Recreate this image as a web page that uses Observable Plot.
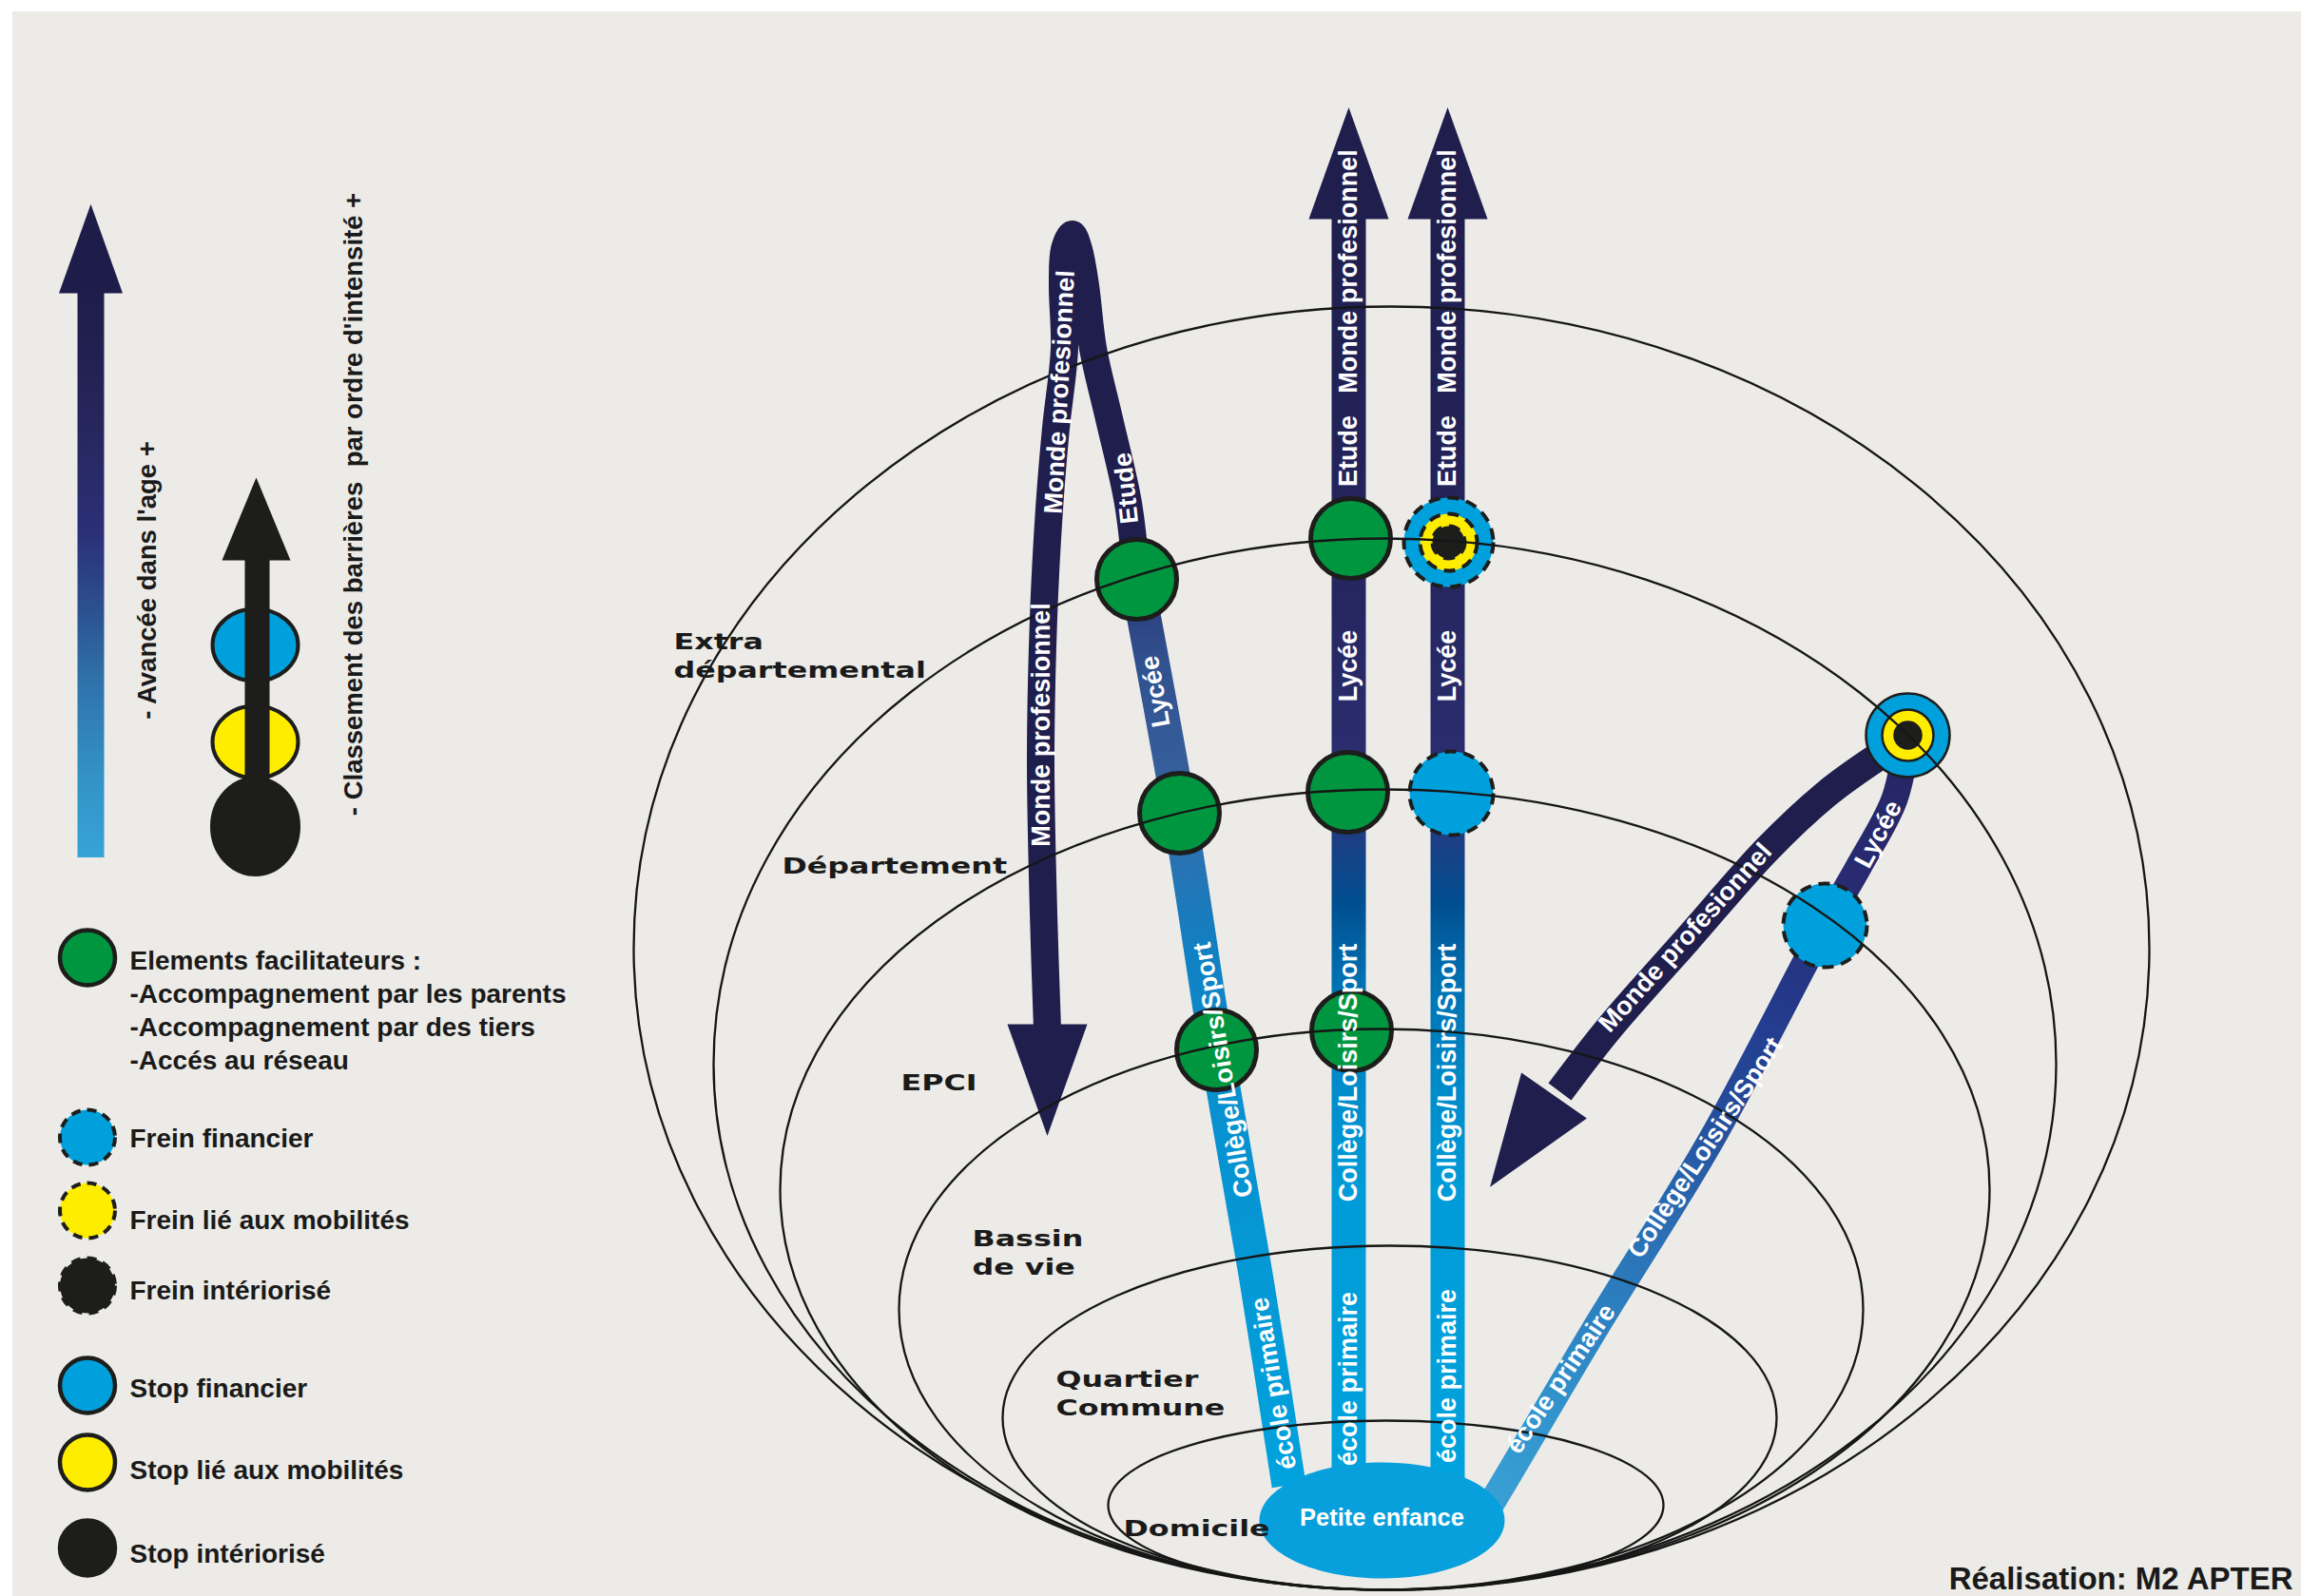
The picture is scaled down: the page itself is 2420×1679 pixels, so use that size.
<!DOCTYPE html>
<html lang="fr">
<head>
<meta charset="utf-8">
<title>Parcours et barrières</title>
<script src="https://cdn.jsdelivr.net/npm/d3@7"></script>
<script src="https://cdn.jsdelivr.net/npm/@observablehq/plot@0.6"></script>
<style>
  html, body { margin: 0; padding: 0; background: #ffffff; }
  #stage { position: relative; width: 2420px; height: 1679px; overflow: hidden; }
  #paper { position: absolute; left: 13px; top: 12px; right: 0; bottom: 0; background: #ECEBE7; }
  #chart { position: absolute; left: 0; top: 0; }
  #chart svg { display: block; }
</style>
</head>
<body>
<div id="stage"><div id="paper"></div><div id="chart"></div></div>
<script>
const W = 2420, H = 1679;

// ---------- DATA (diagram coordinates) ----------
// Territorial levels: nested ellipses that all touch the home point at the bottom
const BASE_Y = 1672;
const zones = [
  {name: "Extra départemental", cx: 1463, rx: 797, ry: 675},
  {name: "Département",         cx: 1456, rx: 706, ry: 553},
  {name: "EPCI",                cx: 1456, rx: 636, ry: 421},
  {name: "Bassin de vie",       cx: 1452, rx: 507, ry: 295},
  {name: "Quartier Commune",    cx: 1461, rx: 407, ry: 181},
  {name: "Domicile",            cx: 1457, rx: 292, ry: 89}
];
const zoneLabels = [
  {label: "Extra\ndépartemental", x: 708,  y: 712},
  {label: "Département",          x: 822,  y: 918},
  {label: "EPCI",                 x: 947,  y: 1146},
  {label: "Bassin\nde vie",       x: 1022, y: 1340},
  {label: "Quartier\nCommune",    x: 1110, y: 1488},
  {label: "Domicile",             x: 1181, y: 1615}
];
const petiteEnfance = [{label: "Petite enfance", x: 1453, y: 1599, rx: 129, ry: 61}];

// Trajectories (centre lines of the bands)
const trajetOuestMontee = [
  {x: 1355, y: 1562}, {x: 1320, y: 1340}, {x: 1279, y: 1104}, {x: 1240, y: 855}, {x: 1195, y: 609}
];
const trajetOuestBoucle = [
  {x: 1195, y: 609}, {x: 1186, y: 529}, {x: 1166, y: 440}, {x: 1149, y: 366}, {x: 1141, y: 300},
  {x: 1134, y: 262}, {x: 1127, y: 246}, {x: 1119, y: 262}, {x: 1117, y: 300}, {x: 1119, y: 366},
  {x: 1110, y: 450}, {x: 1103, y: 535}, {x: 1097, y: 650}, {x: 1094, y: 800}, {x: 1097, y: 960},
  {x: 1101, y: 1082}
];
const trajetCentre = [{x: 1418, y: 1556}, {x: 1418, y: 226}];
const trajetDroit  = [{x: 1522, y: 1556}, {x: 1522, y: 226}];
const trajetEstMontee = [
  {x: 1552, y: 1606}, {x: 1565, y: 1586}, {x: 1676, y: 1399}, {x: 1799, y: 1199},
  {x: 1919, y: 973}, {x: 1955, y: 910}, {x: 1992, y: 840}, {x: 2006, y: 773}
];
const trajetEstDescente = [
  {x: 2000, y: 780}, {x: 1968, y: 800}, {x: 1920, y: 835}, {x: 1858, y: 893},
  {x: 1774, y: 988}, {x: 1692, y: 1081}, {x: 1640, y: 1148}
];
const pointes = [
  {x: 1418, y: 230, angle: 0},
  {x: 1522, y: 230, angle: 0},
  {x: 1101, y: 1077, angle: 180},
  {x: 1634, y: 1152, angle: -145}
];

// Stage labels along the bands
const etapes = [
  {label: "école primaire",        x: 1339, y: 1455, angle: -99.5},
  {label: "Collège/Loisirs/Sport", x: 1286, y: 1125, angle: -99.5},
  {label: "Lycée",                 x: 1215, y: 727,  angle: -100},
  {label: "Etude",                 x: 1184, y: 513,  angle: -96},
  {label: "Monde profesionnel",    x: 1114, y: 412,  angle: -87},
  {label: "Monde profesionnel",    x: 1095, y: 762,  angle: -90},
  {label: "école primaire",        x: 1418, y: 1450, angle: -90},
  {label: "Collège/Loisirs/Sport", x: 1418, y: 1128, angle: -90},
  {label: "Lycée",                 x: 1418, y: 700,  angle: -90},
  {label: "Etude",                 x: 1418, y: 474,  angle: -90},
  {label: "Monde profesionnel",    x: 1418, y: 285,  angle: -90},
  {label: "école primaire",        x: 1522, y: 1447, angle: -90},
  {label: "Collège/Loisirs/Sport", x: 1522, y: 1128, angle: -90},
  {label: "Lycée",                 x: 1522, y: 700,  angle: -90},
  {label: "Etude",                 x: 1522, y: 474,  angle: -90},
  {label: "Monde profesionnel",    x: 1522, y: 285,  angle: -90},
  {label: "école primaire",        x: 1641, y: 1450, angle: -56},
  {label: "Collège/Loisirs/Sport", x: 1793, y: 1207, angle: -56.5},
  {label: "Lycée",                 x: 1975, y: 877,  angle: -62},
  {label: "Monde profesionnel",    x: 1772, y: 986,  angle: -48}
];

// Barriers / facilitators met along the trajectories
const facilitateurs = [
  {x: 1279, y: 1104}, {x: 1240, y: 855}, {x: 1195, y: 609},
  {x: 1421, y: 1084}, {x: 1417, y: 833}, {x: 1420, y: 566}
];
const freins = [
  {x: 1526, y: 834, barrieres: ["financier"]},
  {x: 1523, y: 570, barrieres: ["financier", "mobilite", "interiorise"]},
  {x: 1919, y: 973, barrieres: ["financier"]}
];
const stops = [
  {x: 2006, y: 773, barrieres: ["financier", "mobilite", "interiorise"]}
];

// Legend
const kinds = ["facilitateur", "financier", "mobilite", "interiorise"];
const kindColors = ["#00963F", "#00A0DC", "#FFED00", "#1D1D1B"];
const legendeItems = [
  {kind: "facilitateur", trait: "plein", label: "Elements facilitateurs :\n-Accompagnement par les parents\n-Accompagnement par des tiers\n-Accés au réseau"},
  {kind: "financier",    trait: "tirets", label: "Frein financier"},
  {kind: "mobilite",     trait: "tirets", label: "Frein lié aux mobilités"},
  {kind: "interiorise",  trait: "tirets", label: "Frein intériorisé"},
  {kind: "financier",    trait: "plein",  label: "Stop financier"},
  {kind: "mobilite",     trait: "plein",  label: "Stop lié aux mobilités"},
  {kind: "interiorise",  trait: "plein",  label: "Stop intériorisé"}
];
const echelleIntensite = ["financier", "mobilite", "interiorise"];
const axesLegende = [
  {label: "- Avancée dans l'age +", x: 155, y: 610},
  {label: "- Classement des barrières\u00a0 par ordre d'intensité +", x: 372, y: 530}
];
const credit = [{label: "Réalisation: M2 APTER", x: 2411, y: 1671}];

// ---------- LAYOUT / STYLE ----------
const legendeSymbolY = [1007, 1196, 1273, 1352, 1457, 1538, 1628];
const legendeTextY   = [1124, 1206, 1292, 1366, 1469, 1555, 1643];
const echelleLayout  = [{y: 678, rx: 45, ry: 38}, {y: 780, rx: 45, ry: 38}, {y: 869, rx: 46, ry: 51}];
const NAVY = "#1F1E4D";

// Custom symbols
const ellipse = (aspect) => ({
  draw(ctx, size) {
    const rx = Math.sqrt(size / Math.PI), ry = rx * aspect, k = 0.5522847498;
    ctx.moveTo(rx, 0);
    ctx.bezierCurveTo(rx, k * ry, k * rx, ry, 0, ry);
    ctx.bezierCurveTo(-k * rx, ry, -rx, k * ry, -rx, 0);
    ctx.bezierCurveTo(-rx, -k * ry, -k * rx, -ry, 0, -ry);
    ctx.bezierCurveTo(k * rx, -ry, rx, -k * ry, rx, 0);
    ctx.closePath();
  }
});
const arrowHead = (ratio, angle) => ({
  draw(ctx, size) {
    const r = Math.sqrt(size / Math.PI), a = angle * Math.PI / 180;
    const rot = ([x, y]) => [x * Math.cos(a) - y * Math.sin(a), x * Math.sin(a) + y * Math.cos(a)];
    const p = [[0, -ratio * r], [r, 0], [-r, 0]].map(rot);
    ctx.moveTo(p[0][0], p[0][1]); ctx.lineTo(p[1][0], p[1][1]); ctx.lineTo(p[2][0], p[2][1]); ctx.closePath();
  }
});

const ringRadius = [47, 30, 17];
const toRings = (list, single) => list.flatMap(n => n.barrieres.map((k, i) => ({
  x: n.x, y: n.y, kind: k, r: n.barrieres.length === 1 ? single : ringRadius[i]
})));
const freinRings = toRings(freins, 44);
const stopRings = toRings(stops, 44).map(d => ({...d, r: d.r - 3}));

const legendeRows = legendeItems.map((d, i) => ({...d, x: 91.5, y: legendeSymbolY[i], tx: 136, ty: legendeTextY[i]}));
const echelleRows = echelleIntensite.map((k, i) => ({kind: k, x: 268, ...echelleLayout[i]}));

const lineOpts = {x: "x", y: "y", curve: "catmull-rom", strokeLinecap: "butt", strokeLinejoin: "round"};
const SANS = "Liberation Sans, Arial, Helvetica, sans-serif";

const svg = Plot.plot({
  width: W, height: H, margin: 0,
  x: {type: "identity", axis: null},
  y: {type: "identity", axis: null},
  r: {type: "identity"},
  color: {type: "ordinal", domain: kinds, range: kindColors},
  style: {background: "transparent", maxWidth: "none"},
  marks: [
    // bands
    Plot.line(trajetOuestMontee, {...lineOpts, stroke: "url(#gOuest)", strokeWidth: 36}),
    Plot.line(trajetOuestBoucle, {...lineOpts, stroke: NAVY, strokeWidth: 29}),
    Plot.line(trajetCentre, {...lineOpts, stroke: "url(#gVert)", strokeWidth: 36}),
    Plot.line(trajetDroit, {...lineOpts, stroke: "url(#gVert)", strokeWidth: 36}),
    Plot.line(trajetEstDescente, {...lineOpts, stroke: NAVY, strokeWidth: 30}),
    Plot.line(trajetEstMontee, {...lineOpts, stroke: "url(#gEst)", strokeWidth: 28}),
    // arrow heads
    ...pointes.map(p => Plot.dot([p], {x: "x", y: "y", r: 42, symbol: arrowHead(2.8, p.angle), fill: NAVY})),
    // early childhood hub
    Plot.dot(petiteEnfance, {x: "x", y: "y", r: "rx", symbol: ellipse(petiteEnfance[0].ry / petiteEnfance[0].rx), fill: "#07A0DC"}),
    // nodes
    Plot.dot(facilitateurs, {x: "x", y: "y", r: 42, fill: () => "facilitateur", stroke: "#1D1D1B", strokeWidth: 5}),
    Plot.dot(freinRings, {x: "x", y: "y", r: "r", fill: "kind", stroke: "#1D1D1B", strokeWidth: 4, strokeDasharray: "12,8"}),
    Plot.dot(stopRings, {x: "x", y: "y", r: "r", fill: "kind", stroke: "#1D1D1B", strokeWidth: 2.5}),
    // territorial level outlines
    ...zones.map(z => Plot.dot([z], {x: "cx", y: d => BASE_Y - d.ry, r: "rx", symbol: ellipse(z.ry / z.rx), fill: "none", stroke: "#161616", strokeWidth: 2.3})),
    // band labels
    Plot.text(etapes, {x: "x", y: "y", text: "label", rotate: "angle", fill: "#ffffff", fontSize: 27, fontWeight: "bold", fontFamily: SANS, textAnchor: "middle", lineAnchor: "middle"}),
    // zone labels
    Plot.text(zoneLabels, {x: "x", y: "y", text: "label", fill: "#1a1a1a", fontSize: 23, fontWeight: "bold", fontFamily: "DejaVu Sans, Verdana, sans-serif", textAnchor: "start", lineAnchor: "bottom", lineHeight: 1.3}),
    Plot.text(petiteEnfance, {x: "x", y: d => d.y + 5, text: "label", fill: "#ffffff", fontSize: 25.5, fontWeight: "bold", fontFamily: SANS, textAnchor: "middle", lineAnchor: "bottom"}),

    // ---- legend: age arrow
    Plot.ruleX([{x: 95, y1: 902, y2: 300}], {x: "x", y1: "y1", y2: "y2", stroke: "url(#gLeg)", strokeWidth: 28}),
    Plot.dot([{x: 95, y: 308}], {x: "x", y: "y", r: 33.5, symbol: arrowHead(2.8, 0), fill: "#1E1D4A"}),
    // ---- legend: intensity arrow
    ...echelleRows.slice(0, 2).map(d => Plot.dot([d], {x: "x", y: "y", r: "rx", symbol: ellipse(d.ry / d.rx), fill: "kind", stroke: "#1D1D1B", strokeWidth: 4})),
    Plot.ruleX([{x: 270, y1: 880, y2: 585}], {x: "x", y1: "y1", y2: "y2", stroke: "#1D1D1B", strokeWidth: 26}),
    Plot.dot([{x: 269, y: 589}], {x: "x", y: "y", r: 36, symbol: arrowHead(2.42, 0), fill: "#1D1D1B"}),
    ...echelleRows.slice(2).map(d => Plot.dot([d], {x: "x", y: "y", r: "rx", symbol: ellipse(d.ry / d.rx), fill: "kind", stroke: "#1D1D1B", strokeWidth: 3})),
    Plot.text(axesLegende, {x: "x", y: "y", text: "label", rotate: -90, fill: "#1a1a1a", fontSize: 27.5, fontWeight: "bold", fontFamily: SANS, textAnchor: "middle", lineAnchor: "middle"}),
    // ---- legend: barrier kinds
    Plot.dot(legendeRows.filter(d => d.trait === "plein"), {x: "x", y: "y", r: 29, fill: "kind", stroke: "#1D1D1B", strokeWidth: 4.5}),
    Plot.dot(legendeRows.filter(d => d.trait === "tirets"), {x: "x", y: "y", r: 29, fill: "kind", stroke: "#1D1D1B", strokeWidth: 4, strokeDasharray: "10,7"}),
    Plot.text(legendeRows, {x: "tx", y: "ty", text: "label", fill: "#1a1a1a", fontSize: 28, fontWeight: "bold", fontFamily: SANS, textAnchor: "start", lineAnchor: "bottom", lineHeight: 1.24}),
    // credit
    Plot.text(credit, {x: "x", y: "y", text: "label", fill: "#1a1a1a", fontSize: 33, fontWeight: "bold", fontFamily: SANS, textAnchor: "end", lineAnchor: "bottom"})
  ]
});
document.getElementById("chart").append(svg);

// ---------- gradients (age progression along the bands) ----------
const defs = d3.select(svg).insert("defs", ":first-child");
function gradient(id, [x1, y1], [x2, y2], stops) {
  const g = defs.append("linearGradient").attr("id", id).attr("gradientUnits", "userSpaceOnUse")
    .attr("x1", x1).attr("y1", y1).attr("x2", x2).attr("y2", y2);
  for (const [o, c] of stops) g.append("stop").attr("offset", o).attr("stop-color", c);
}
gradient("gVert", [0, 1556], [0, 226], [
  [0, "#00A3DD"], [0.23, "#009BD8"], [0.305, "#008CCB"], [0.395, "#0071B2"], [0.456, "#004F90"],
  [0.516, "#223B82"], [0.576, "#2A2D6E"], [0.72, "#25255E"], [1, "#1F1E4D"]
]);
gradient("gOuest", [1355, 1562], [1195, 609], [
  [0, "#00A2DD"], [0.43, "#0890CF"], [0.59, "#1180C2"], [0.695, "#2A72B2"], [0.742, "#30659F"],
  [0.8, "#355D9A"], [0.905, "#30528F"], [0.967, "#2D417F"], [1, "#2A3372"]
]);
gradient("gEst", [1552, 1606], [2006, 773], [
  [0, "#3AA2D6"], [0.15, "#3294CD"], [0.28, "#2C80C0"], [0.4, "#2A6CB3"], [0.55, "#244A98"],
  [0.68, "#24388A"], [0.8, "#282C74"], [1, "#262562"]
]);
gradient("gLeg", [0, 902], [0, 300], [
  [0, "#37A3D7"], [0.148, "#3391C6"], [0.317, "#2F70A9"], [0.44, "#2C4E8F"], [0.57, "#2B2F76"],
  [0.74, "#27275F"], [0.91, "#211F4E"], [1, "#1E1D4A"]
]);

// zone labels use an extended face: stretch horizontally around their anchor
const zoneSet = new Set(zoneLabels.map(d => d.label.replace(/\n/g, "")));
svg.querySelectorAll("text").forEach(t => {
  if (zoneSet.has(t.textContent)) {
    const x = parseFloat(t.getAttribute("x")) || 0;
    const tr = t.getAttribute("transform") || "";
    t.setAttribute("transform", `${tr} translate(${x},0) scale(1.38,1) translate(${-x},0)`);
  }
});
</script>
</body>
</html>
